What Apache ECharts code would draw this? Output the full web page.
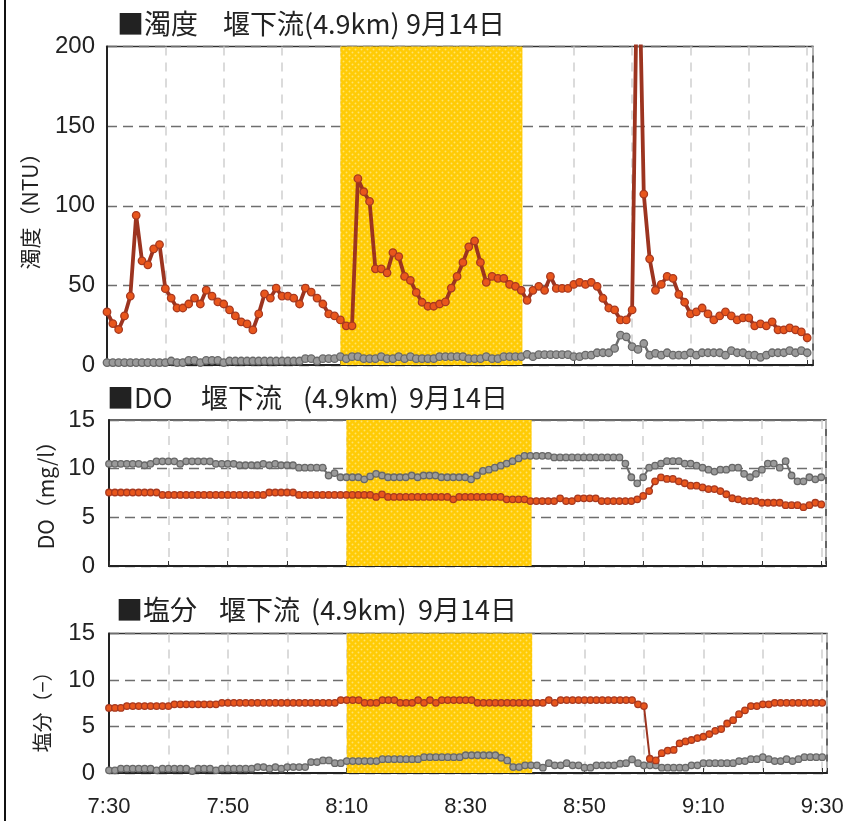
<!DOCTYPE html>
<html>
<head>
<meta charset="utf-8">
<script src="https://cdn.jsdelivr.net/npm/echarts@6/dist/echarts.min.js"></script>
<style>
  html, body { margin: 0; padding: 0; background: #fff; }
  #chart { width: 850px; height: 821px; }
</style>
</head>
<body>
<div id="chart"></div>
<script>
// One reading per minute, 7:30 – 9:30 on 14 September, site 4.9 km below the weir
const START_MIN = 7 * 60 + 30;
const SHADE_RANGE = [490, 521.2];           // 8:10 – 8:41 band
const TIME_TICKS = ['7:30', '7:50', '8:10', '8:30', '8:50', '9:10', '9:30'];

// Turbidity (NTU)
const turbidityRed = [
  33.3, 26, 22.3, 30.8, 43.3, 94, 65.4, 62.9, 72.9, 75.6,
  47.9, 42, 35.8, 35.8, 38.3, 42, 38.3, 47, 43.3, 39.6,
  38.3, 34.6, 30.8, 27.1, 25.8, 22, 32.1, 44.6, 42, 48.3,
  43.3, 43.3, 42, 38.3, 48.3, 45.8, 42, 38.3, 32.1, 30.8,
  28.3, 24.6, 24.6, 117, 108.8, 102.7, 60.4, 60.4, 57.9, 70.6,
  68.1, 55.6, 53.1, 45.6, 39.4, 36.9, 36.9, 38.3, 39.6, 48.3,
  55.6, 64.4, 74.2, 77.9, 64.4, 51.9, 55.6, 54.4, 54.4, 50.6,
  49.4, 46.9, 40.6, 46.9, 49.4, 46.9, 55.6, 48.1, 48.1, 48.1,
  50.6, 51.9, 50.6, 51.9, 49.4, 41.9, 35.8, 34.6, 28.3, 28.3,
  34.6, 290, 107.3, 66.7, 46.9, 50.6, 55.6, 54.4, 44.4, 39.4,
  32.1, 33.3, 35.8, 32.1, 28.3, 30.8, 33.3, 30.8, 28.3, 29.6,
  29.6, 24.6, 25.8, 24.6, 27.1, 22.1, 22.1, 23.3, 22.1, 20.8,
  17.1
];
const turbidityGray = [
  1.5, 1.5, 1.5, 1.5, 1.5, 1.5, 1.5, 1.5, 1.5, 1.5,
  1.5, 2.5, 1.5, 1.5, 2.9, 2.9, 1.5, 2.9, 2.9, 2.9,
  1.5, 2.5, 2.5, 2.5, 2.5, 2.5, 2.5, 2.5, 2.5, 2.5,
  2.5, 2.5, 2.5, 2.5, 4.0, 4.0, 2.5, 4.0, 4.0, 4.0,
  5.2, 4.0, 5.2, 5.2, 4.0, 4.0, 4.0, 5.2, 4.0, 4.0,
  5.2, 4.0, 5.2, 4.0, 4.0, 4.0, 4.0, 5.2, 5.2, 5.2,
  5.2, 5.2, 4.0, 4.0, 4.0, 5.2, 4.0, 4.0, 5.2, 5.2,
  5.2, 5.2, 6.7, 5.2, 6.5, 6.5, 6.5, 6.5, 6.5, 6.5,
  5.2, 5.2, 6.2, 6.2, 7.7, 7.7, 7.7, 10.4, 18.7, 17.7,
  11.5, 9.8, 13.5, 6.2, 7.3, 6.2, 7.7, 6.2, 6.2, 6.2,
  7.7, 6.2, 7.7, 7.7, 7.7, 7.7, 6.2, 9.0, 7.7, 7.7,
  6.2, 6.2, 4.8, 6.2, 7.7, 7.7, 7.7, 9.0, 7.7, 9.0,
  7.7
];

// Dissolved oxygen (mg/l)
const doRed = [
  7.55, 7.55, 7.55, 7.55, 7.55, 7.55, 7.55, 7.55, 7.55, 7.3,
  7.3, 7.3, 7.3, 7.3, 7.3, 7.3, 7.3, 7.3, 7.3, 7.3,
  7.3, 7.3, 7.3, 7.3, 7.3, 7.3, 7.3, 7.55, 7.55, 7.55,
  7.55, 7.55, 7.3, 7.3, 7.3, 7.3, 7.3, 7.3, 7.3, 7.3,
  7.3, 7.3, 7.3, 7.3, 7.3, 7.1, 7.35, 7.1, 7.1, 7.1,
  7.1, 7.1, 7.1, 7.1, 7.1, 7.1, 7.1, 7.1, 6.85, 7.1,
  7.1, 7.1, 7.1, 7.1, 7.1, 7.1, 7.1, 6.85, 6.85, 6.85,
  6.85, 6.67, 6.67, 6.67, 6.67, 6.67, 6.95, 6.67, 6.67, 6.95,
  6.95, 6.95, 6.95, 6.67, 6.67, 6.67, 6.67, 6.67, 6.67, 6.85,
  7.2, 7.7, 8.7, 9.1, 8.95, 8.95, 8.7, 8.5, 8.25, 8.25,
  8.07, 7.9, 7.9, 7.7, 7.37, 6.96, 6.85, 6.67, 6.67, 6.67,
  6.5, 6.5, 6.5, 6.5, 6.25, 6.25, 6.25, 6.04, 6.25, 6.5,
  6.33
];
const doGray = [
  10.5, 10.5, 10.5, 10.5, 10.5, 10.5, 10.35, 10.5, 10.75, 10.75,
  10.75, 10.75, 10.5, 10.75, 10.75, 10.75, 10.75, 10.75, 10.5, 10.5,
  10.5, 10.5, 10.35, 10.35, 10.35, 10.35, 10.5, 10.35, 10.5, 10.35,
  10.35, 10.35, 10.1, 10.1, 10.1, 10.1, 10.1, 9.3, 9.55, 9.12,
  9.12, 9.12, 9.12, 8.91, 9.2, 9.47, 9.3, 9.12, 9.12, 9.12,
  9.12, 9.3, 9.12, 9.3, 9.3, 9.3, 9.12, 9.12, 9.12, 9.12,
  9.12, 8.91, 9.3, 9.77, 9.9, 10.1, 10.31, 10.52, 10.77, 11.05,
  11.32, 11.32, 11.32, 11.32, 11.32, 11.15, 11.15, 11.15, 11.15, 11.15,
  11.15, 11.15, 11.15, 11.15, 11.15, 11.15, 11.15, 10.52, 9.12, 8.49,
  9.12, 10.1, 10.31, 10.52, 10.77, 10.77, 10.77, 10.52, 10.52, 10.31,
  10.1, 9.9, 9.7, 9.9, 9.9, 10.1, 10.1, 9.47, 9.12, 9.47,
  9.9, 10.52, 10.52, 10.1, 10.77, 9.3, 8.7, 8.7, 9.12, 8.91,
  9.12
];

// Salinity (-)
const saltRed = [
  7.0, 7.0, 7.0, 7.2, 7.2, 7.2, 7.2, 7.2, 7.2, 7.2,
  7.2, 7.38, 7.38, 7.38, 7.38, 7.38, 7.38, 7.38, 7.38, 7.55,
  7.55, 7.55, 7.55, 7.55, 7.55, 7.55, 7.55, 7.55, 7.55, 7.55,
  7.55, 7.55, 7.55, 7.55, 7.55, 7.55, 7.55, 7.55, 7.55, 7.84,
  7.84, 7.84, 7.84, 7.55, 7.55, 7.55, 7.84, 7.84, 7.84, 7.55,
  7.55, 7.55, 7.84, 7.55, 7.84, 7.55, 7.84, 7.84, 7.84, 7.84,
  7.84, 7.84, 7.55, 7.55, 7.55, 7.55, 7.55, 7.55, 7.55, 7.55,
  7.55, 7.55, 7.55, 7.55, 7.84, 7.55, 7.84, 7.84, 7.84, 7.84,
  7.84, 7.84, 7.84, 7.84, 7.84, 7.84, 7.84, 7.84, 7.84, 7.38,
  7.2, 1.53, 1.35, 2.13, 2.41, 2.48, 3.19, 3.4, 3.55, 3.76,
  3.9, 4.19, 4.54, 4.72, 5.32, 5.68, 6.32, 6.74, 7.2, 7.2,
  7.38, 7.38, 7.55, 7.55, 7.55, 7.55, 7.55, 7.55, 7.55, 7.55,
  7.55
];
const saltGray = [
  0.29, 0.29, 0.47, 0.47, 0.47, 0.47, 0.47, 0.47, 0.29, 0.47,
  0.47, 0.47, 0.47, 0.47, 0.21, 0.47, 0.47, 0.47, 0.29, 0.47,
  0.47, 0.47, 0.47, 0.47, 0.47, 0.64, 0.64, 0.47, 0.64, 0.47,
  0.64, 0.64, 0.64, 0.64, 1.17, 1.17, 1.35, 1.35, 1.06, 1.06,
  1.28, 1.28, 1.28, 1.28, 1.28, 1.28, 1.49, 1.49, 1.49, 1.49,
  1.49, 1.49, 1.49, 1.7, 1.7, 1.7, 1.7, 1.7, 1.7, 1.7,
  1.91, 1.91, 1.91, 1.91, 1.91, 1.91, 1.64, 1.35, 0.64, 0.64,
  0.82, 0.82, 0.82, 0.57, 1.06, 0.82, 0.82, 1.06, 0.82, 0.82,
  0.57, 0.57, 0.82, 0.82, 0.82, 0.82, 1.0, 1.06, 1.46, 1.06,
  0.82, 0.82, 0.82, 0.57, 0.57, 0.57, 0.57, 0.57, 0.82, 0.82,
  1.06, 1.06, 1.06, 1.06, 1.06, 1.06, 1.28, 1.28, 1.49, 1.49,
  1.7, 1.49, 1.28, 1.28, 1.49, 1.28, 1.49, 1.7, 1.7, 1.7,
  1.7
];

// Panel headings, split into the pieces separated by wide gaps
const TITLE_PARTS = [
  ['■濁度', '堰下流(4.9km)', '9月14日'],
  ['■DO', '堰下流', '(4.9km)', '9月14日'],
  ['■塩分', '堰下流', '(4.9km)', '9月14日']
];
const Y_NAMES = ['濁度（NTU）', 'DO（mg/l）', '塩分（−）'];

const JP_FONT = '"Noto Sans CJK JP", "Noto Sans", sans-serif';
const NUM_FONT = '"Liberation Sans", Arial, sans-serif';

function withTimes(values) {
  return values.map((v, i) => [START_MIN + i, v]);
}
function clockLabel(m) {
  const h = Math.floor(m / 60), mm = Math.round(m % 60);
  return h + ':' + (mm < 10 ? '0' : '') + mm;
}

// Yellow dotted fill for the highlighted time band
function dotPattern() {
  const c = document.createElement('canvas');
  c.width = 6; c.height = 6;
  const g = c.getContext('2d');
  g.fillStyle = '#FFCB05';
  g.fillRect(0, 0, 6, 6);
  g.fillStyle = '#FFE36A';
  [[1.5, 1.5], [4.5, 4.5]].forEach(([x, y]) => {
    g.beginPath(); g.arc(x, y, 0.95, 0, Math.PI * 2); g.fill();
  });
  return c;
}
const shadeFill = { image: dotPattern(), repeat: 'repeat' };

const grids = [
  { left: 107, top: 46.5, width: 706, height: 318.5 },
  { left: 109, top: 420, width: 717, height: 146 },
  { left: 109, top: 633.5, width: 718, height: 139.5 }
];
const xMaxes = [571, 570.8, 570.8];
const yRanges = [[0, 200, 50], [0, 15, 5], [0, 15, 5]];
const yLabelMargins = [12, 14, 14];

const xAxes = grids.map((g, i) => ({
  type: 'value', gridIndex: i, min: START_MIN, max: xMaxes[i], interval: 10,
  axisLine: { show: true, lineStyle: { color: '#222', width: 2 } },
  axisTick: { show: true, inside: true, length: 5, lineStyle: { color: '#333', width: 1 } },
  axisLabel: {
    show: i === 2, margin: 23, fontSize: 22, fontFamily: NUM_FONT, color: '#222',
    formatter: v => TIME_TICKS.indexOf(clockLabel(v)) >= 0 ? clockLabel(v) : ''
  },
  splitLine: { show: true, lineStyle: { color: '#CFCFCF', width: 1.5, type: [9, 7] } }
}));

const yAxes = grids.map((g, i) => ({
  type: 'value', gridIndex: i, min: yRanges[i][0], max: yRanges[i][1], interval: yRanges[i][2],
  axisLine: { show: true, lineStyle: { color: '#222', width: 2 } },
  axisTick: { show: false },
  axisLabel: { margin: yLabelMargins[i], fontSize: 24, fontFamily: NUM_FONT, color: '#222' },
  splitLine: { show: true, lineStyle: { color: '#6E6E6E', width: 1.3, type: [10, 6] } }
}));

function lineSeries(gi, values, red, large) {
  return {
    type: 'line', xAxisIndex: gi, yAxisIndex: gi, data: withTimes(values),
    symbol: 'circle', symbolSize: large ? 7.5 : 6.5, showSymbol: true, clip: true,
    lineStyle: { color: red ? '#9C3420' : '#6C6C6C', width: large ? (red ? 3.8 : 2.5) : 2 },
    itemStyle: { color: red ? '#E8561C' : '#9A9A9A', borderColor: red ? '#A8391F' : '#686868', borderWidth: 1.3 },
    z: red ? 4 : 3, animation: false, emphasis: { disabled: true }
  };
}
function bandSeries(gi) {
  return {
    type: 'line', xAxisIndex: gi, yAxisIndex: gi, data: [], z: 1, animation: false,
    markArea: {
      silent: true,
      itemStyle: { color: shadeFill },
      data: [[{ xAxis: SHADE_RANGE[0] }, { xAxis: SHADE_RANGE[1] }]]
    }
  };
}

const series = [
  bandSeries(0), lineSeries(0, turbidityGray, false, true), lineSeries(0, turbidityRed, true, true),
  bandSeries(1), lineSeries(1, doGray, false, false), lineSeries(1, doRed, true, false),
  bandSeries(2), lineSeries(2, saltGray, false, false), lineSeries(2, saltRed, true, false)
];

const titleX = [
  [117, 223, 406],
  [107, 201, 303, 409],
  [116, 219, 311, 418]
];
const titleY = [24, 398, 610];
const namePos = [[30, 206], [46, 490], [42, 707]];
const nameSizes = [21, 21, 20];

const graphic = [
  { type: 'line', shape: { x1: 5, y1: 0, x2: 5, y2: 821 }, style: { stroke: '#111', lineWidth: 2 } }
];
TITLE_PARTS.forEach((parts, i) => parts.forEach((t, j) => graphic.push({
  type: 'text', x: titleX[i][j], y: titleY[i],
  style: { text: t, font: '27px ' + JP_FONT, fill: '#222', textVerticalAlign: 'middle' }
})));
Y_NAMES.forEach((t, i) => graphic.push({
  type: 'text', x: namePos[i][0], y: namePos[i][1], rotation: Math.PI / 2,
  style: { text: t, font: nameSizes[i] + 'px ' + JP_FONT, fill: '#222', textAlign: 'center', textVerticalAlign: 'middle' }
}));

const chart = echarts.init(document.getElementById('chart'), null, { renderer: 'canvas' });
chart.setOption({
  animation: false,
  backgroundColor: '#fff',
  grid: grids.map(g => Object.assign({ show: true, borderColor: '#333', borderWidth: 1.5, containLabel: false }, g)),
  xAxis: xAxes,
  yAxis: yAxes,
  series: series,
  graphic: graphic
});
</script>
</body>
</html>
